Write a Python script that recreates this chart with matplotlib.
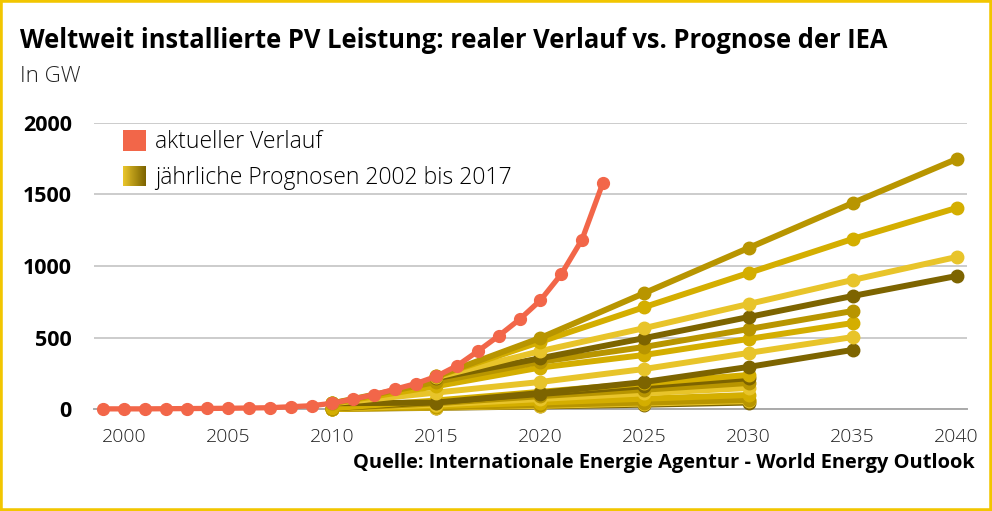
import matplotlib
matplotlib.use('Agg')
import matplotlib.pyplot as plt
from matplotlib.patches import Rectangle
from matplotlib.legend_handler import HandlerBase
from matplotlib.colors import LinearSegmentedColormap

plt.rcParams['font.family'] = ['Open Sans', 'DejaVu Sans']

# tatsaechlich installierte Leistung in GW
jahre_ist = list(range(1999, 2024))
leistung_ist = [1, 1, 1, 2, 3, 4, 5, 7, 9, 16, 23, 40, 70, 100, 138, 177,
                228, 303, 405, 512, 627, 760, 942, 1185, 1580]

# IEA Prognosen (World Energy Outlook)
jahre_bis_2030 = [2010, 2015, 2020, 2025, 2030]
prognosen_bis_2030 = [
    [1, 8, 18, 30, 45],
    [1, 10, 22, 38, 55],
    [1, 12, 28, 45, 63],
    [2, 20, 45, 72, 98],
    [3, 30, 70, 110, 147],
    [3, 40, 90, 135, 182],
    [5, 50, 105, 160, 215],
    [5, 60, 120, 180, 238],
]
jahre_bis_2035 = [2010, 2015, 2020, 2025, 2030, 2035]
prognosen_bis_2035 = [
    [40, 45, 112, 189, 294, 413],
    [40, 115, 189, 280, 392, 503],
    [40, 160, 290, 378, 490, 601],
    [40, 190, 330, 434, 559, 685],
]
jahre_bis_2040 = [2015, 2020, 2025, 2030, 2035, 2040]
prognosen_bis_2040 = [
    [215, 355, 496, 643, 790, 930],
    [222, 405, 566, 734, 902, 1063],
    [228, 470, 713, 951, 1189, 1406],
    [228, 497, 811, 1126, 1440, 1748],
]

x_ticks = list(range(2000, 2041, 5))
y_ticks = [0, 500, 1000, 1500, 2000]

hell = '#e8c42a'
gold = '#d4ae00'
dunkelgold = '#b89500'
oliv = '#7d6400'
orange = '#f26649'

farben_2030 = [oliv, hell, dunkelgold, gold, hell, dunkelgold, oliv, gold]
farben_2035 = [oliv, hell, gold, dunkelgold]
farben_2040 = [oliv, hell, gold, dunkelgold]


class VerlaufHandler(HandlerBase):
    '''
    Legend patch with a yellow to olive gradient
    '''
    def create_artists(self, legend, orig_handle, xdescent, ydescent,
                       width, height, fontsize, trans):
        cmap = LinearSegmentedColormap.from_list('verlauf', [hell, oliv])
        n = 24
        teile = []
        for i in range(n):
            r = Rectangle((-xdescent + width * i / n, -ydescent), width / n * 1.1, height,
                          facecolor=cmap(i / (n - 1)), edgecolor='none', transform=trans)
            teile.append(r)
        return teile


fig = plt.figure(figsize=(9.92, 5.11), dpi=100)
ax = fig.add_axes([0.0948, 0.1996, 0.880, 0.5597])

for werte, farbe in zip(prognosen_bis_2030, farben_2030):
    ax.plot(jahre_bis_2030, werte, color=farbe, lw=4.3, marker='o', ms=9,
            solid_capstyle='round', clip_on=False, zorder=3)
for werte, farbe in zip(prognosen_bis_2035, farben_2035):
    ax.plot(jahre_bis_2035, werte, color=farbe, lw=4.3, marker='o', ms=9,
            solid_capstyle='round', clip_on=False, zorder=3)
for werte, farbe in zip(prognosen_bis_2040, farben_2040):
    ax.plot(jahre_bis_2040, werte, color=farbe, lw=4.3, marker='o', ms=9,
            solid_capstyle='round', clip_on=False, zorder=3)

ax.plot(jahre_ist, leistung_ist, color=orange, lw=3.8, marker='o', ms=8.5,
        clip_on=False, zorder=5)

ax.set_xlim(1998.55, 2040.5)
ax.set_ylim(0, 2000)
ax.set_xticks(x_ticks)
ax.set_yticks(y_ticks)
ax.grid(axis='y', color='#cccccc', lw=1.4, zorder=0)
ax.set_axisbelow(True)
for s in ['top', 'right', 'left']:
    ax.spines[s].set_visible(False)
ax.spines['bottom'].set_color('#aaaaaa')
ax.spines['bottom'].set_linewidth(1.4)
ax.tick_params(axis='both', length=0)
ax.tick_params(axis='x', pad=14, labelsize=14, labelcolor='#222222')
ax.tick_params(axis='y', pad=16, labelsize=15.5)
for t in ax.get_xticklabels():
    t.set_fontweight('light')
for t in ax.get_yticklabels():
    t.set_fontweight('bold')

griffe = [Rectangle((0, 0), 1, 1, facecolor=orange, edgecolor='none'), 'verlauf']
ax.legend(griffe, ['aktueller Verlauf', 'jährliche Prognosen 2002 bis 2017'],
          handler_map={str: VerlaufHandler()},
          loc='upper left', bbox_to_anchor=(0.033, 0.975), frameon=False,
          borderpad=0, borderaxespad=0, handlelength=1.0, handleheight=1.0,
          handletextpad=0.4, labelspacing=0.5, prop={'size': 16.5, 'weight': 'light'})

fig.text(20 / 992, 1 - 40 / 511, 'Weltweit installierte PV Leistung: realer Verlauf vs. Prognose der IEA',
         fontsize=18.4, fontweight='bold', va='center', ha='left')
fig.text(20 / 992, 1 - 77 / 511, 'In GW', fontsize=16, fontweight='light', va='center', ha='left',
         color='#222222')
fig.text(975 / 992, 1 - 463 / 511, 'Quelle: Internationale Energie Agentur - World Energy Outlook',
         fontsize=14.4, fontweight='bold', va='center', ha='right')

fig.patches.append(Rectangle((0, 0), 1, 1, transform=fig.transFigure, fill=False,
                             edgecolor='#f2c600', lw=4, zorder=10))

fig.savefig('out.png', dpi=100)
